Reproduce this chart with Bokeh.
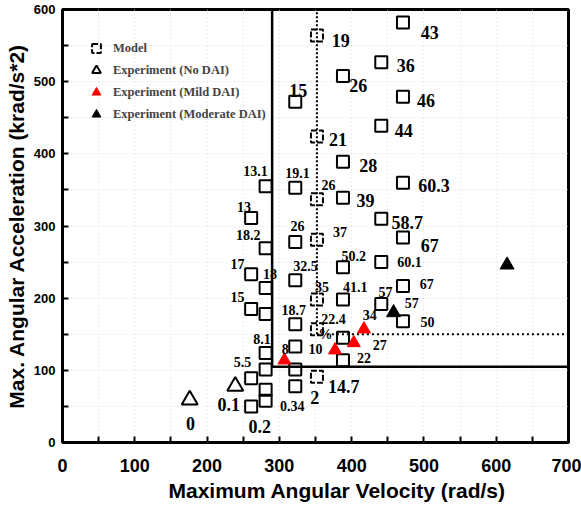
from bokeh.plotting import figure
from bokeh.models import FixedTicker, Legend, LegendItem, ColumnDataSource, Title
from bokeh.core.properties import value
from bokeh.embed import file_html
from bokeh.resources import INLINE

# ---------------- data ----------------
x_ticks = [0, 100, 200, 300, 400, 500, 600, 700]
y_ticks = [0, 100, 200, 300, 400, 500, 600]

# model predictions (max angular velocity rad/s, max angular acceleration krad/s^2)
model_v = [261, 261, 261, 261, 261,
           281, 281, 281, 281, 281, 281, 281, 281,
           322, 322, 322, 322, 322, 322, 322, 322,
           352, 352, 352, 352, 352, 352, 352,
           388, 388, 388, 388, 388, 388, 388,
           441, 441, 441, 441, 441,
           471, 471, 471, 471, 471, 471]
model_a = [311, 233, 185, 89, 50,
           355, 269, 214, 178, 124, 101, 73, 58,
           472, 353, 278, 225, 164, 133, 101, 78,
           564, 424, 337, 281, 198, 157, 91,
           508, 389, 339, 243, 198, 145, 114,
           527, 439, 310, 250, 192,
           582, 479, 360, 284, 217, 168]

no_dai_v = [176, 239]
no_dai_a = [59, 78]
mild_v = [307, 377, 403, 417]
mild_a = [114, 128, 138, 157]
moderate_v = [458, 615]
moderate_a = [180, 246]

# threshold lines
solid_v, solid_a = 290, 105
dotted_v, dotted_a = 352, 150

# point labels (data coordinates)
big_text = ["43", "19", "36", "26", "15", "46", "44", "21", "28", "39", "60.3",
            "58.7", "67", "14.7", "2", "0.1", "0", "0.2"]
big_x = [508, 385, 475, 409, 326, 503, 472, 381, 423, 419, 514,
         477, 508, 389, 349, 230, 177, 273]
big_y = [568, 557, 523, 495, 488, 474, 432, 420, 384, 336, 356,
         305, 273, 77, 62, 52, 27, 22]

small_text = ["13.1", "19.1", "26", "13", "18.2", "26", "37", "50.2", "60.1", "17",
              "18", "32.5", "15", "35", "41.1", "57", "67", "57", "50", "18.7",
              "22.4", "34", "8.1", "%", "8", "10", "27", "22", "5.5", "0.34"]
small_x = [267, 325, 368, 251, 257, 325, 384, 403, 480, 242,
           287, 336, 242, 359, 405, 447, 504, 483, 505, 320,
           375, 425, 276, 364, 308, 350, 439, 417, 249, 318]
small_y = [376, 374, 357, 326, 287, 300, 291, 259, 250, 248,
           234, 244, 201, 215, 216, 209, 219, 193, 167, 183,
           171, 177, 144, 150, 129, 129, 135, 117, 112, 50]

x_title = "Maximum Angular Velocity (rad/s)"
y_title = "Max. Angular Acceleration (krad/s*2)"

# ---------------- figure ----------------
p = figure(width=581, height=506, x_range=(0, 700), y_range=(0, 600),
           output_backend="svg", toolbar_location=None,
           min_border_left=62, min_border_right=13,
           min_border_top=9, min_border_bottom=64)
p.background_fill_color = "white"
p.border_fill_color = "white"
p.outline_line_color = "black"
p.outline_line_width = 3

p.yaxis.axis_label = y_title
for ax in (p.xaxis[0], p.yaxis[0]):
    ax.axis_line_color = None
    ax.major_tick_in = 6
    ax.major_tick_out = 0
    ax.minor_tick_in = 6
    ax.minor_tick_out = 0
    ax.major_tick_line_width = 2
    ax.minor_tick_line_width = 2
    ax.major_tick_line_color = "black"
    ax.minor_tick_line_color = "black"
    ax.major_label_text_font = "Liberation Sans"
    ax.major_label_text_font_style = "bold"
    ax.major_label_text_color = "black"
    ax.axis_label_text_font = "Liberation Sans"
    ax.axis_label_text_font_style = "bold"
    ax.axis_label_text_color = "black"

p.xaxis.ticker = FixedTicker(ticks=x_ticks, minor_ticks=list(range(50, 701, 100)))
p.yaxis.ticker = FixedTicker(ticks=y_ticks, minor_ticks=list(range(50, 601, 100)))
p.xaxis.major_label_text_font_size = "18px"
p.yaxis.major_label_text_font_size = "13px"
p.yaxis.axis_label_text_font_size = "21px"
p.xaxis.major_label_standoff = 16
p.yaxis.major_label_standoff = 7
p.yaxis.axis_label_standoff = 3

# x-axis title, offset to the right as in the original
p.add_layout(Title(text=x_title, align="left", offset=106, standoff=5,
                   text_font="Liberation Sans", text_font_style="bold",
                   text_font_size="21px", text_color="black"), "below")

p.xgrid.ticker = FixedTicker(ticks=list(range(0, 701, 50)))
p.ygrid.ticker = FixedTicker(ticks=list(range(0, 601, 50)))
for g in (p.xgrid[0], p.ygrid[0]):
    g.grid_line_color = "#d9d9d9"
    g.grid_line_dash = "1 3"
    g.grid_line_width = 1

# threshold lines
p.line([solid_v, solid_v], [solid_a, 600], line_color="black", line_width=2.5)
p.line([solid_v, 700], [solid_a, solid_a], line_color="black", line_width=2.5)
p.line([dotted_v, dotted_v], [dotted_a, 600], line_color="black", line_width=2, line_dash="2 2")
p.line([dotted_v, 700], [dotted_a, dotted_a], line_color="black", line_width=2, line_dash="2 3")

# model squares
on_line = [i for i, v in enumerate(model_v) if v == dotted_v]
off_line = [i for i, v in enumerate(model_v) if v != dotted_v]
src_off = ColumnDataSource(dict(v=[model_v[i] for i in off_line], a=[model_a[i] for i in off_line]))
src_on = ColumnDataSource(dict(v=[model_v[i] for i in on_line], a=[model_a[i] for i in on_line]))
p.scatter("v", "a", source=src_off, marker="square", size=12,
          fill_color=None, line_color="black", line_width=2)
r_model = p.scatter("v", "a", source=src_on, marker="square", size=12,
                    fill_color="white", fill_alpha=0, line_color="black",
                    line_width=2, line_dash="6 2")

r_no = p.scatter(no_dai_v, no_dai_a, marker="triangle", size=16,
                 fill_color=None, line_color="black", line_width=2)
r_mild = p.scatter(mild_v, mild_a, marker="triangle", size=13,
                   fill_color="red", line_color="red", line_width=1)
r_mod = p.scatter(moderate_v, moderate_a, marker="triangle", size=14,
                  fill_color="black", line_color="black", line_width=1)

# labels
p.text(big_x, big_y, text=big_text, text_font=value("Liberation Serif"),
       text_font_style="bold", text_font_size="18px", text_color="black",
       text_align="center", text_baseline="middle")
p.text(small_x, small_y, text=small_text, text_font=value("Liberation Serif"),
       text_font_style="bold", text_font_size="14px", text_color="black",
       text_align="center", text_baseline="middle")

legend = Legend(items=[
    LegendItem(label="Model", renderers=[r_model]),
    LegendItem(label="Experiment (No DAI)", renderers=[r_no]),
    LegendItem(label="Experiment (Mild DAI)", renderers=[r_mild]),
    LegendItem(label="Experiment (Moderate DAI)", renderers=[r_mod]),
], location=(19, 317), margin=0, padding=5, glyph_width=30, glyph_height=22,
    label_height=22, spacing=0, label_standoff=2, label_text_font="Liberation Serif",
    label_text_font_style="bold", label_text_font_size="12.5px",
    border_line_color=None, background_fill_alpha=0)
p.add_layout(legend)

open("out.html", "w").write(file_html(p, INLINE))
